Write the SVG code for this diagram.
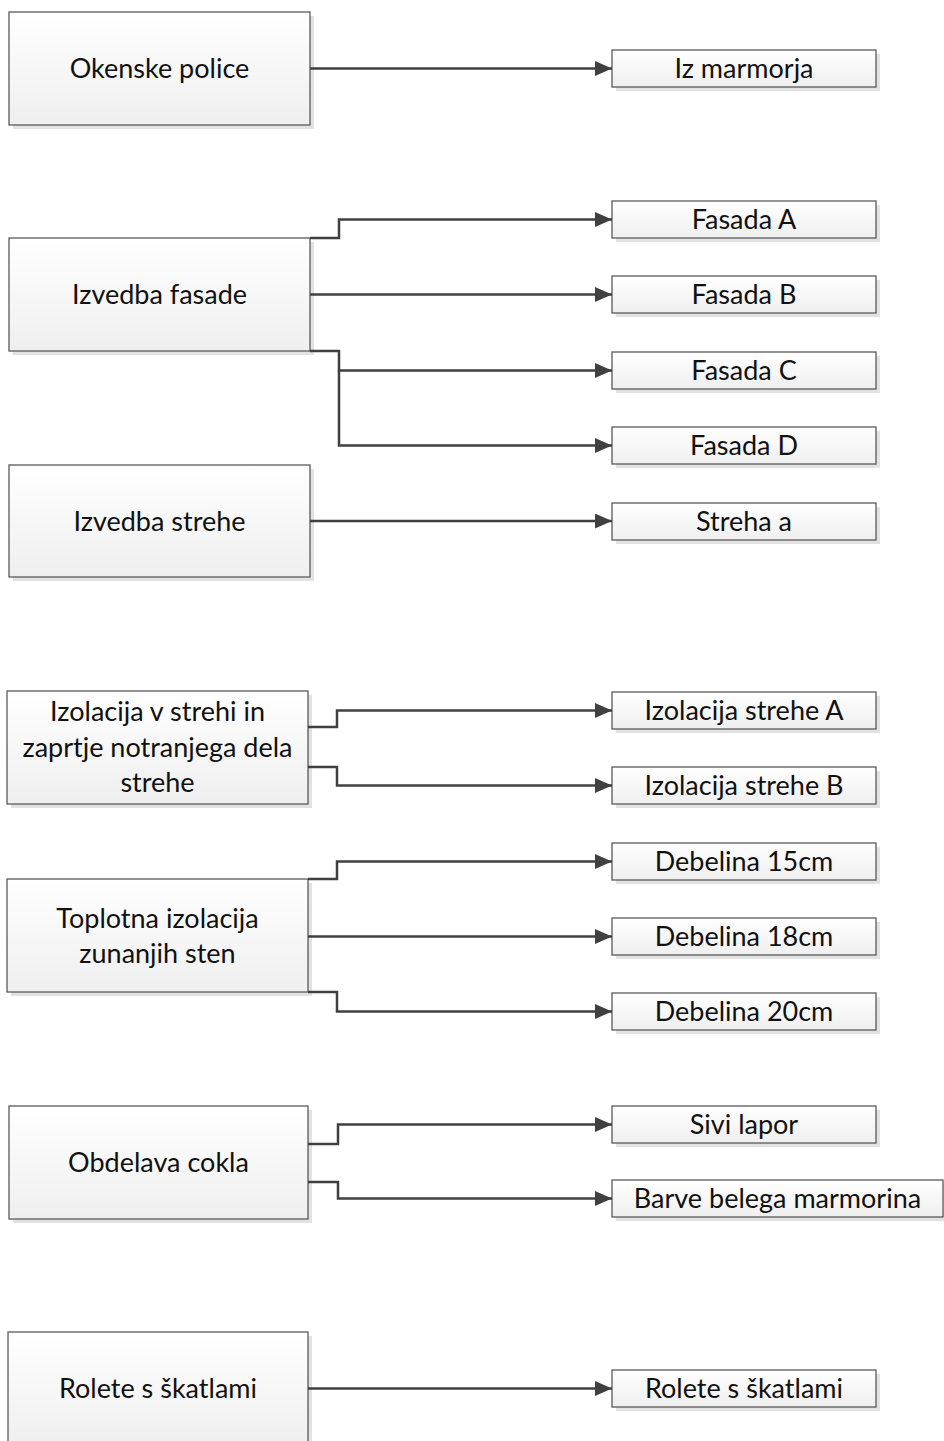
<svg xmlns="http://www.w3.org/2000/svg" width="944" height="1441" viewBox="0 0 944 1441">
<defs>
<linearGradient id="g" x1="0" y1="0" x2="0" y2="1">
<stop offset="0" stop-color="#ffffff"/>
<stop offset="1" stop-color="#efefef"/>
</linearGradient>
<marker id="ar" markerUnits="userSpaceOnUse" markerWidth="18" markerHeight="15" refX="17" refY="7.5" orient="auto">
<path d="M0,0 L17,7.5 L0,15 z" fill="#404040"/>
</marker>
</defs>
<style>
.sh{fill:#e2e2e2;}
.bx{fill:url(#g);stroke:#5a5a5a;stroke-width:1.3;}
.t{font-family:Lato,"Open Sans","Liberation Sans",sans-serif;font-size:27px;fill:#111;text-anchor:middle;}
.c{fill:none;stroke:#404040;stroke-width:2.5;marker-end:url(#ar);}
</style>
<rect width="944" height="1441" fill="#ffffff"/>
<g id="n-okenske"><rect class="sh" x="13" y="16" width="301" height="113"/><rect class="bx" x="9" y="12" width="301" height="113"/><text class="t" x="159.5" y="78">Okenske police</text></g>
<g id="n-fasade"><rect class="sh" x="13" y="242" width="301" height="113"/><rect class="bx" x="9" y="238" width="301" height="113"/><text class="t" x="159.5" y="304">Izvedba fasade</text></g>
<g id="n-strehe"><rect class="sh" x="13" y="469" width="301" height="112"/><rect class="bx" x="9" y="465" width="301" height="112"/><text class="t" x="159.5" y="530.5">Izvedba strehe</text></g>
<g id="n-izolacija"><rect class="sh" x="11" y="695" width="301" height="113"/><rect class="bx" x="7" y="691" width="301" height="113"/><text class="t" x="157.5" y="721">Izolacija v strehi in</text><text class="t" x="157.5" y="757">zaprtje notranjega dela</text><text class="t" x="157.5" y="792">strehe</text></g>
<g id="n-toplotna"><rect class="sh" x="11" y="883" width="301" height="113"/><rect class="bx" x="7" y="879" width="301" height="113"/><text class="t" x="157.5" y="928">Toplotna izolacija</text><text class="t" x="157.5" y="963">zunanjih sten</text></g>
<g id="n-obdelava"><rect class="sh" x="13" y="1110" width="299" height="113"/><rect class="bx" x="9" y="1106" width="299" height="113"/><text class="t" x="158.5" y="1172">Obdelava cokla</text></g>
<g id="n-rolete"><rect class="sh" x="12" y="1336" width="300" height="113"/><rect class="bx" x="8" y="1332" width="300" height="113"/><text class="t" x="158" y="1398">Rolete s škatlami</text></g>
<g id="n-iz-marmorja"><rect class="sh" x="616" y="54" width="264" height="37"/><rect class="bx" x="612" y="50" width="264" height="37"/><text class="t" x="744" y="78">Iz marmorja</text></g>
<g id="n-fasada-a"><rect class="sh" x="616" y="205" width="264" height="37"/><rect class="bx" x="612" y="201" width="264" height="37"/><text class="t" x="744" y="229">Fasada A</text></g>
<g id="n-fasada-b"><rect class="sh" x="616" y="280" width="264" height="37"/><rect class="bx" x="612" y="276" width="264" height="37"/><text class="t" x="744" y="304">Fasada B</text></g>
<g id="n-fasada-c"><rect class="sh" x="616" y="356" width="264" height="37"/><rect class="bx" x="612" y="352" width="264" height="37"/><text class="t" x="744" y="380">Fasada C</text></g>
<g id="n-fasada-d"><rect class="sh" x="616" y="431" width="264" height="37"/><rect class="bx" x="612" y="427" width="264" height="37"/><text class="t" x="744" y="455">Fasada D</text></g>
<g id="n-streha-a"><rect class="sh" x="616" y="507" width="264" height="37"/><rect class="bx" x="612" y="503" width="264" height="37"/><text class="t" x="744" y="531">Streha a</text></g>
<g id="n-izol-a"><rect class="sh" x="616" y="696" width="264" height="37"/><rect class="bx" x="612" y="692" width="264" height="37"/><text class="t" x="744" y="720">Izolacija strehe A</text></g>
<g id="n-izol-b"><rect class="sh" x="616" y="771" width="264" height="37"/><rect class="bx" x="612" y="767" width="264" height="37"/><text class="t" x="744" y="795">Izolacija strehe B</text></g>
<g id="n-deb15"><rect class="sh" x="616" y="847" width="264" height="37"/><rect class="bx" x="612" y="843" width="264" height="37"/><text class="t" x="744" y="871">Debelina 15cm</text></g>
<g id="n-deb18"><rect class="sh" x="616" y="922" width="264" height="37"/><rect class="bx" x="612" y="918" width="264" height="37"/><text class="t" x="744" y="946">Debelina 18cm</text></g>
<g id="n-deb20"><rect class="sh" x="616" y="997" width="264" height="37"/><rect class="bx" x="612" y="993" width="264" height="37"/><text class="t" x="744" y="1021">Debelina 20cm</text></g>
<g id="n-sivi"><rect class="sh" x="616" y="1110" width="264" height="37"/><rect class="bx" x="612" y="1106" width="264" height="37"/><text class="t" x="744" y="1134">Sivi lapor</text></g>
<g id="n-barve"><rect class="sh" x="616" y="1184" width="331" height="37"/><rect class="bx" x="612" y="1180" width="331" height="37"/><text class="t" x="777.5" y="1208">Barve belega marmorina</text></g>
<g id="n-rolete-r"><rect class="sh" x="616" y="1374" width="264" height="37"/><rect class="bx" x="612" y="1370" width="264" height="37"/><text class="t" x="744" y="1398">Rolete s škatlami</text></g>
<g id="connectors">
<path class="c" d="M310,68.5 H612"/>
<path class="c" d="M310,238 H339 V219.5 H612"/>
<path class="c" d="M310,294.5 H612"/>
<path class="c" d="M310,351 H339 V370.5 H612"/>
<path class="c" d="M339,370.5 V445.5 H612"/>
<path class="c" d="M310,521 H612"/>
<path class="c" d="M308,727 H337 V710.5 H612"/>
<path class="c" d="M308,767 H337 V785.5 H612"/>
<path class="c" d="M308,879 H337 V861.5 H612"/>
<path class="c" d="M308,936.5 H612"/>
<path class="c" d="M308,992 H337 V1011.5 H612"/>
<path class="c" d="M308,1144 H338 V1124.5 H612"/>
<path class="c" d="M308,1182 H338 V1198.5 H612"/>
<path class="c" d="M308,1388.5 H612"/>
</g>
</svg>
